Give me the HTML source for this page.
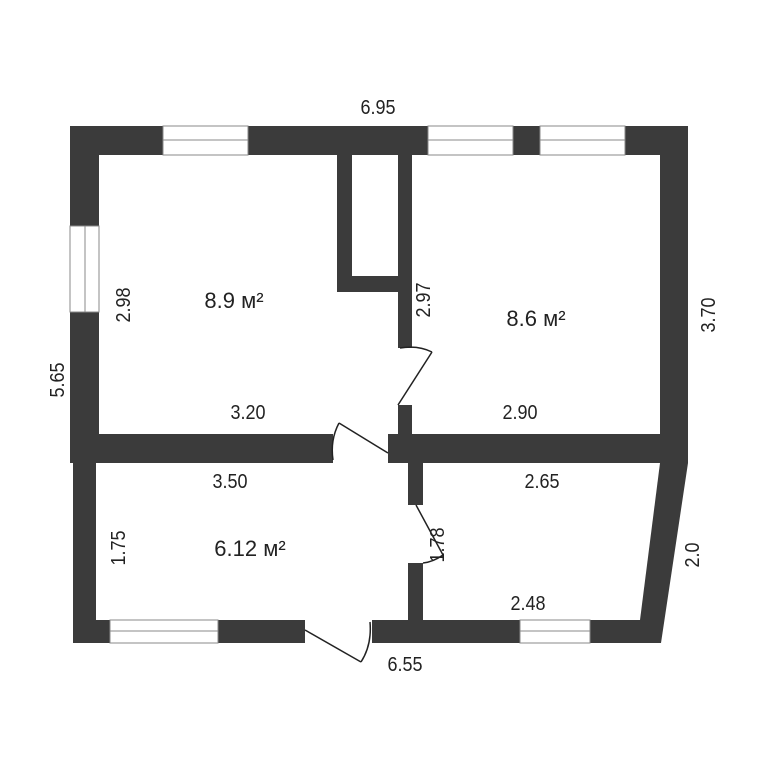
<!DOCTYPE html>
<html><head><meta charset="utf-8"><style>
body{margin:0;background:#fff}
svg text{font-family:"Liberation Sans",sans-serif;font-size:20px;fill:#222}
svg text.a{font-size:22px}
</style></head><body>
<svg width="768" height="768" viewBox="0 0 768 768" xmlns="http://www.w3.org/2000/svg">
<g fill="#3b3b3b">
<rect x="70" y="126" width="618" height="29"/>
<rect x="70" y="126" width="29" height="337"/>
<rect x="660" y="126" width="28" height="337"/>
<rect x="337" y="155" width="15" height="137"/>
<rect x="337" y="276" width="75" height="16"/>
<rect x="398" y="155" width="14" height="193"/>
<rect x="398" y="405" width="14" height="35"/>
<rect x="70" y="434" width="263" height="29"/>
<rect x="388" y="434" width="300" height="29"/>
<rect x="73" y="463" width="23" height="180"/>
<rect x="408" y="463" width="15" height="42"/>
<rect x="408" y="563" width="15" height="80"/>
<rect x="73" y="620" width="232" height="23"/>
<rect x="372" y="620" width="270" height="23"/>
<polygon points="660,463 688,463 661,643 640,643 640,620"/>
</g>
<g fill="#fff" stroke="#888" stroke-width="1">
<rect x="163" y="126" width="85" height="29"/>
<rect x="428" y="126" width="85" height="29"/>
<rect x="540" y="126" width="85" height="29"/>
<rect x="70" y="226" width="29" height="86"/>
<rect x="110" y="620" width="108" height="23"/>
<rect x="520" y="620" width="70" height="23"/>
</g>
<g stroke="#888" stroke-width="1">
<line x1="163" y1="140" x2="248" y2="140"/><line x1="428" y1="140" x2="513" y2="140"/><line x1="540" y1="140" x2="625" y2="140"/>
<line x1="85" y1="226" x2="85" y2="312"/><line x1="110" y1="631" x2="218" y2="631"/><line x1="520" y1="631" x2="590" y2="631"/>
</g>
<g stroke="#222" stroke-width="1.5" fill="none">
<line x1="339" y1="423" x2="388" y2="453"/><path d="M339 423 Q330 440 333 460"/>
<line x1="398" y1="405" x2="432" y2="352"/><path d="M432 352 Q418 345 400 348"/>
<line x1="416" y1="505" x2="443" y2="555"/><path d="M443 555 Q433 562 423 563"/>
<line x1="305" y1="630" x2="361" y2="662"/><path d="M361 662 Q372 645 370 622"/>
</g>
<g transform="scale(1,1)">
<text x="378" y="114" text-anchor="middle" transform="translate(378,0) scale(0.9,1) translate(-378,0)">6.95</text>
<text class="a" x="234" y="308" text-anchor="middle">8.9 м²</text>
<text class="a" x="536" y="326" text-anchor="middle">8.6 м²</text>
<text x="248" y="419" text-anchor="middle" transform="translate(248,0) scale(0.9,1) translate(-248,0)">3.20</text>
<text x="520" y="419" text-anchor="middle" transform="translate(520,0) scale(0.9,1) translate(-520,0)">2.90</text>
<text x="230" y="488" text-anchor="middle" transform="translate(230,0) scale(0.9,1) translate(-230,0)">3.50</text>
<text x="542" y="488" text-anchor="middle" transform="translate(542,0) scale(0.9,1) translate(-542,0)">2.65</text>
<text class="a" x="250" y="556" text-anchor="middle">6.12 м²</text>
<text x="528" y="610" text-anchor="middle" transform="translate(528,0) scale(0.9,1) translate(-528,0)">2.48</text>
<text x="405" y="671" text-anchor="middle" transform="translate(405,0) scale(0.9,1) translate(-405,0)">6.55</text>
</g>
<text transform="translate(64,380) rotate(-90) scale(0.9,1)" text-anchor="middle">5.65</text>
<text transform="translate(715,315) rotate(-90) scale(0.9,1)" text-anchor="middle">3.70</text>
<text transform="translate(130,305) rotate(-90) scale(0.9,1)" text-anchor="middle">2.98</text>
<text transform="translate(430,300) rotate(-90) scale(0.9,1)" text-anchor="middle">2.97</text>
<text transform="translate(125,548) rotate(-90) scale(0.9,1)" text-anchor="middle">1.75</text>
<text transform="translate(444,545) rotate(-90) scale(0.9,1)" text-anchor="middle">1.78</text>
<text transform="translate(699,555) rotate(-90) scale(0.9,1)" text-anchor="middle">2.0</text>
</svg>
</body></html>
